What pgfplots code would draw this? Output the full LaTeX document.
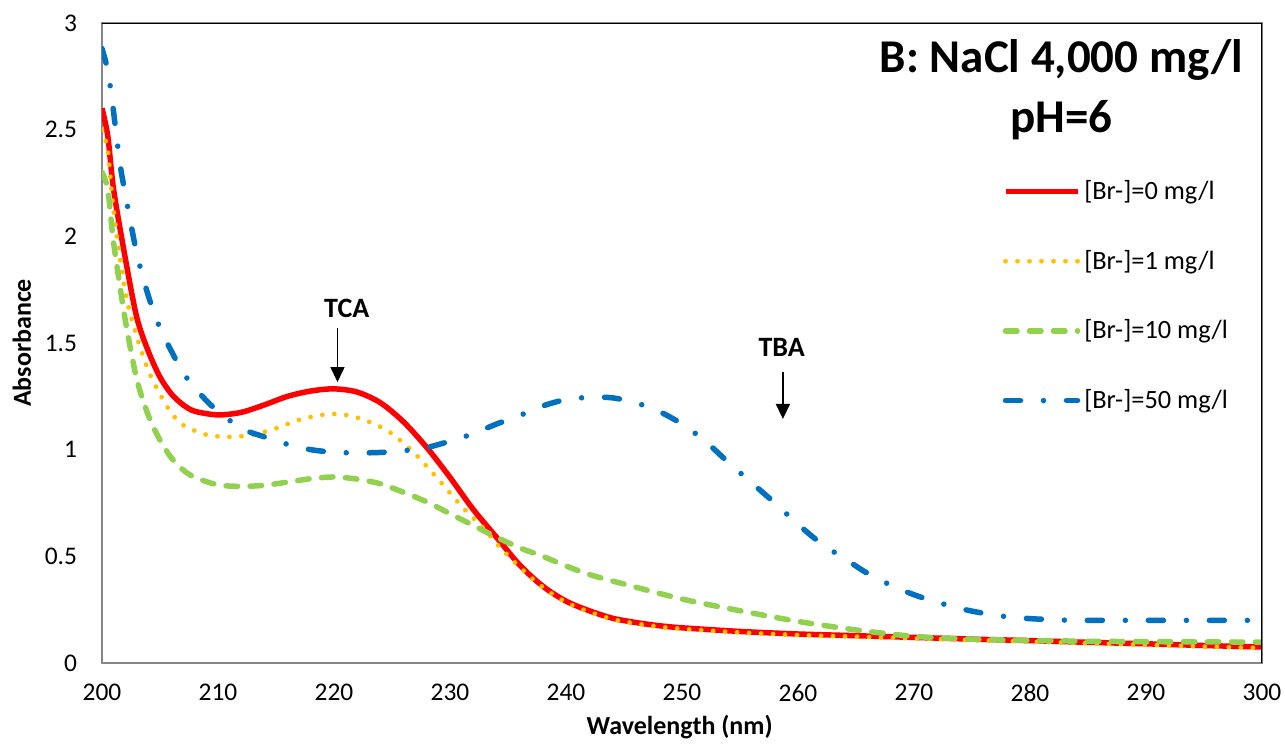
\documentclass[border=0pt]{standalone}
\usepackage{fontspec}
\setmainfont{Carlito}
\usepackage{pgfplots}
\pgfplotsset{compat=1.18}
\usetikzlibrary{arrows.meta}

\definecolor{cRed}{HTML}{FF0000}
\definecolor{cYel}{HTML}{FFC000}
\definecolor{cGrn}{HTML}{92D050}
\definecolor{cBlu}{HTML}{0070C0}
\definecolor{frame}{HTML}{868686}

\begin{document}
\begin{tikzpicture}
\begin{axis}[
  name=ax,
  width=580pt, height=320pt, scale only axis,
  xmin=200, xmax=300, ymin=0, ymax=3,
  xtick={200,210,...,300}, ytick={0,0.5,1,1.5,2,2.5,3},
  major tick length=0pt, tick style={draw=none},
  axis line style={frame, line width=1pt},
  /pgf/number format/assume math mode=true,
  ticklabel style={font=\fontsize{12.7}{15}\selectfont},
  yticklabel style={xshift=-9pt},
  xticklabel style={yshift=-7pt},
  xlabel={Wavelength (nm)}, ylabel={Absorbance},
  label style={font=\bfseries\fontsize{13}{16}\selectfont},
  xlabel style={at={(axis description cs:0.498,-0.1)}, anchor=center},
  ylabel style={at={(axis description cs:-0.069,0.5)}, anchor=center},
  legend cell align=left,
  legend style={at={(rel axis cs:0.771,0.767)}, anchor=north west, draw=none, fill=none,
    font=\fontsize{13.2}{16}\selectfont, row sep=19.8pt},
  legend image code/.code={\draw[#1] (0pt,0pt) -- (36pt,0pt);},
  clip=true,
]
% [Br-]=0 mg/l
\addplot[cRed, line width=2.75pt, smooth, tension=0.5] coordinates {
(200,2.60)(200.5,2.47)(201,2.22)(202,1.90)(203,1.62)(204,1.46)(205,1.34)(206,1.26)
(207,1.21)(208,1.18)(210,1.163)(212,1.175)(214,1.21)(216,1.25)(218,1.275)(220,1.285)
(222,1.27)(224,1.22)(226,1.13)(228,1.01)(230,0.87)(232,0.72)(234,0.59)(236,0.46)
(238,0.36)(240,0.29)(242,0.245)(244,0.21)(246,0.19)(248,0.175)(250,0.165)(255,0.148)
(260,0.136)(265,0.128)(270,0.12)(275,0.112)(280,0.105)(285,0.097)(290,0.09)(295,0.082)(300,0.075)};
\addlegendentry{[Br-]=0 mg/l}
% [Br-]=1 mg/l
\addplot[cYel, line width=2.4pt, line cap=round, dash pattern=on 0pt off 6pt, smooth, tension=0.5] coordinates {
(200,2.50)(200.5,2.40)(201,2.12)(202,1.74)(203,1.53)(204,1.37)(205,1.26)(206,1.17)
(207,1.115)(209,1.07)(211,1.06)(213,1.07)(215,1.10)(217,1.14)(219,1.163)(220.5,1.167)
(222,1.15)(223.5,1.12)(225,1.075)(227,0.98)(229,0.86)(231,0.735)(233,0.625)(234,0.56)
(236,0.45)(238,0.355)(240,0.285)(242,0.24)(244,0.205)(246,0.185)(248,0.17)(250,0.16)
(255,0.143)(260,0.131)(265,0.123)(270,0.115)(275,0.107)(280,0.1)(285,0.092)(290,0.085)(295,0.077)(300,0.07)};
\addlegendentry{[Br-]=1 mg/l}
% [Br-]=10 mg/l
\addplot[cGrn, line width=2.75pt, line cap=round, dash pattern=on 5.75pt off 6.25pt, smooth, tension=0.5] coordinates {
(200,2.30)(200.5,2.22)(201,1.97)(202,1.61)(203,1.33)(204,1.16)(205,1.045)(206,0.96)
(207,0.905)(208,0.87)(210,0.835)(212,0.828)(214,0.833)(216,0.848)(218,0.864)(220,0.872)
(222,0.862)(224,0.84)(226,0.80)(228,0.755)(230,0.70)(232,0.645)(234,0.59)(236,0.54)
(238,0.50)(240,0.455)(242,0.415)(245,0.37)(250,0.30)(255,0.245)(260,0.195)(265,0.155)
(270,0.125)(275,0.112)(280,0.106)(285,0.102)(290,0.100)(300,0.098)};
\addlegendentry{[Br-]=10 mg/l}
% [Br-]=50 mg/l
\addplot[cBlu, line width=2.75pt, line cap=round, dash pattern=on 7.5pt off 11.5pt on 0pt off 11.5pt, smooth, tension=0.5] coordinates {
(200,2.88)(200.4,2.80)(200.8,2.67)(201.5,2.36)(202,2.20)(203,1.92)(204,1.72)(205,1.57)
(206,1.46)(207,1.36)(208,1.29)(209,1.23)(210,1.18)(212,1.10)(214,1.06)(216,1.025)
(218,1.00)(220,0.988)(222,0.985)(224,0.987)(226,0.995)(228,1.01)(230,1.04)(232,1.075)
(234,1.12)(236,1.16)(238,1.205)(240,1.235)(242,1.245)(244,1.243)(246,1.22)(248,1.18)
(250,1.12)(252,1.04)(254,0.94)(256,0.845)(258,0.75)(260,0.65)(262,0.56)(264,0.49)
(266,0.42)(268,0.365)(270,0.32)(272,0.285)(274,0.255)(276,0.233)(278,0.217)(280,0.208)
(282,0.203)(284,0.2)(290,0.2)(300,0.2)};
\addlegendentry{[Br-]=50 mg/l}

% black top and right border
\draw[black, line width=1pt] (rel axis cs:0,1) -- (rel axis cs:1,1) -- (rel axis cs:1,0);

% annotations
\node[font=\bfseries\fontsize{23.5}{30}\selectfont, align=center] at (axis cs:282.7,2.686) {B: NaCl 4,000 mg/l\\pH=6};
\node[font=\bfseries\fontsize{14}{17}\selectfont] at (axis cs:221.1,1.664) {TCA};
\draw[line width=0.8pt, -{Triangle[length=7.5pt,width=7pt]}] (axis cs:220.3,1.57) -- (axis cs:220.3,1.317);
\node[font=\bfseries\fontsize{14}{17}\selectfont] at (axis cs:258.6,1.477) {TBA};
\draw[line width=0.8pt, -{Triangle[length=7.5pt,width=7pt]}] (axis cs:258.7,1.364) -- (axis cs:258.7,1.144);
\end{axis}
\pgfresetboundingbox
\path ([shift={(-51pt,-41.5pt)}]ax.south west) rectangle ([shift={(11.5pt,11.5pt)}]ax.north east);
\end{tikzpicture}
\end{document}
